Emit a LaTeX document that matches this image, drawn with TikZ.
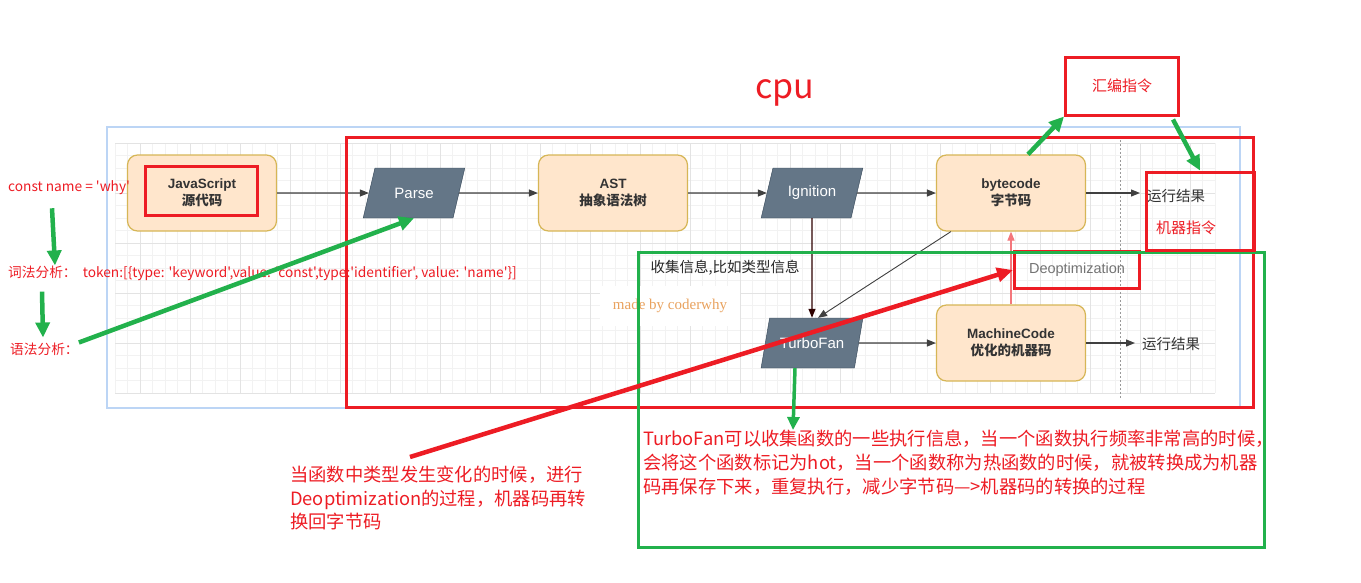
\documentclass[tikz,border=0pt]{standalone}
\usepackage{fontspec}
\setmainfont{Liberation Sans}
\newfontfamily\cjk{Noto Sans CJK SC}[Ligatures=TeXOff]
\newfontfamily\madefont{Liberation Serif}
\usetikzlibrary{shapes.geometric,arrows.meta}
\definecolor{boxfill}{HTML}{FFE6CC}
\definecolor{boxline}{HTML}{D6B656}
\definecolor{slate}{HTML}{647687}
\definecolor{slateline}{HTML}{314354}
\definecolor{markred}{HTML}{ED1C24}
\definecolor{markgreen}{HTML}{22B14C}
\definecolor{panelline}{HTML}{BCD5F5}
\definecolor{madeorange}{HTML}{E9A25E}
\begin{document}
\begin{tikzpicture}[x=1pt,y=-1pt,
	stage/.style={draw=boxline,fill=boxfill,line width=1.2pt,rounded corners=10pt,minimum width=149pt,minimum height=76pt,align=center,text=black!80,font=\fontsize{13.5}{17}\selectfont\bfseries},
	tool/.style={trapezium,trapezium left angle=68,trapezium right angle=112,trapezium stretches=true,draw=slateline,fill=slate,minimum width=102pt,minimum height=50pt,text=white,font=\fontsize{15}{17}\selectfont},
	flow/.style={-{Triangle[length=9pt,width=7pt]},line width=1.1pt,draw=black!75},
	hint/.style={-{Triangle[length=15pt,width=14pt]},line width=4.5pt,draw=markgreen},
	warn/.style={-{Triangle[length=16pt,width=14pt]},line width=4.5pt,draw=markred},
	redbox/.style={draw=markred,line width=3pt},
	note/.style={text=markred,inner sep=0pt,font=\cjk\fontsize{13.7}{16}\selectfont},
	result/.style={text=black!80,inner sep=7pt,anchor=west,font=\cjk\fontsize{14.5}{17}\selectfont},
	gridminor/.style={draw=black!5,line width=.6pt},
	gridmajor/.style={draw=black!11,line width=.8pt}]
	\useasboundingbox (0,0) rectangle (1361,582);
	% drawing panel with grid
	\draw[draw=panelline,fill=white,line width=1.5pt] (107,127) rectangle (1240,408);
	\foreach \i in {0,...,88} \draw[gridminor] ({115+12.5*\i},143) -- ({115+12.5*\i},393);
	\foreach \j in {0,...,20} \draw[gridminor] (115,{143+12.5*\j}) -- (1215,{143+12.5*\j});
	\foreach \i in {0,...,21} \draw[gridmajor] ({140+50*\i},143) -- ({140+50*\i},393);
	\foreach \j in {0,...,5} \draw[gridmajor] (115,{143+50*\j}) -- (1215,{143+50*\j});
	\draw[black!40,dash pattern=on 2pt off 2pt] (1120,140) -- (1120,398);

	\node[stage] (JS) at (202,193) {JavaScript\\{\cjk 源代码}};
	\node[tool] (PS) at (414,193) {Parse};
	\node[stage] (AST) at (613,193) {AST\\{\cjk 抽象语法树}};
	\node[tool] (IGN) at (812,193) {Ignition};
	\node[stage] (BC) at (1011,193) {bytecode\\{\cjk 字节码}};
	\node[tool] (TF) at (812,343) {TurboFan};
	\node[stage] (MC) at (1011,343) {MachineCode\\{\cjk 优化的机器码}};
	\node[result] (RA) at (1140,196) {运行结果};
	\node[result] (RB) at (1135,344) {运行结果};
	\node[text=black!85,anchor=west,font=\cjk\fontsize{14.5}{17}\selectfont] (INFO) at (647,268) {收集信息,比如类型信息};
	\node[fill=white,minimum width=140pt,minimum height=40pt,text=madeorange,font=\madefont\fontsize{15}{18}\selectfont] (MADE) at (670,306) {made by coderwhy};
	\node[redbox,minimum width=125pt,minimum height=37pt,text=black!55,font=\fontsize{14.5}{17}\selectfont] (DEO) at (1077,270) {Deoptimization};

	\draw[flow] (JS) -- (PS);
	\draw[flow] (PS) -- (AST);
	\draw[flow] (AST) -- (IGN);
	\draw[flow] (IGN) -- (BC);
	\draw[flow] (BC.east) -- (BC.east -| RA.west);
	\draw[flow,draw=black!70!red!60!black] (IGN) -- (TF);
	\draw[flow,line width=.9pt] ([xshift=15pt]BC.south west) -- ([xshift=6pt]TF.north);
	\draw[flow] (TF) -- (MC);
	\draw[flow] (MC.east) -- (MC.east -| RB.west);
	\draw[flow,draw=markred!60] (MC) -- (BC);

	% red and green marks
	\node[redbox,minimum width=112pt,minimum height=49pt] (JSR) at (201,191) {};
	\draw[redbox] (346,137) rectangle (1253,407);
	\draw[draw=markgreen,line width=3pt] (638,252) rectangle (1264,547);
	\node[text=markred,font=\cjk\fontsize{34}{40}\selectfont] (CPU) at (785,93) {cpu};
	\node[redbox,minimum width=113pt,minimum height=58pt,text=markred,font=\cjk\fontsize{15}{18}\selectfont] (ASM) at (1122,86) {汇编指令};
	\node[redbox,minimum width=108pt,minimum height=78pt] (MIBOX) at (1200,211) {};
	\node[text=markred,font=\cjk\fontsize{15}{18}\selectfont] (MI) at (1186,228) {机器指令};
	\draw[hint] ([xshift=17pt]BC.north) -- (ASM.south west);
	\draw[hint] ([xshift=-7pt,yshift=-3pt]ASM.south east) -- (MIBOX.north);

	\node[note,anchor=west] (CONST) at (8,188) {const name = 'why'};
	\node[note,anchor=west] (LEX) at (8,273) {词法分析：\ \ token:[\{type: 'keyword',value: 'const',type:'identifier', value: 'name'\}]};
	\node[note,anchor=west] (SYN) at (10,349) {语法分析：};
	\draw[hint] ([xshift=44pt,yshift=-13pt]CONST.south west) -- ([xshift=47pt]LEX.north west);
	\draw[hint] ([xshift=34pt,yshift=-11pt]LEX.south west) -- ([xshift=33pt,yshift=5pt]SYN.north west);
	\draw[hint] (SYN.north east) -- (PS.south);

	\node[note,anchor=north west,align=left,font=\cjk\fontsize{18.3}{24}\selectfont] (TXT1) at (643,430) {TurboFan可以收集函数的一些执行信息，当一个函数执行频率非常高的时候，\\会将这个函数标记为hot，当一个函数称为热函数的时候，就被转换成为机器\\码再保存下来，重复执行，减少字节码—>机器码的转换的过程};
	\node[note,anchor=north west,align=left,font=\cjk\fontsize{18.3}{23.5}\selectfont] (TXT2) at (290,466) {当函数中类型发生变化的时候，进行\\Deoptimization的过程，机器码再转\\换回字节码};
	\draw[hint,-{Triangle[length=13pt,width=12pt]},line width=3.5pt] ([xshift=-17pt]TF.south) -- ([xshift=150pt]TXT1.north west);
	\draw[warn] ([xshift=120pt,yshift=9pt]TXT2.north west) -- (DEO.west);
\end{tikzpicture}
\end{document}
